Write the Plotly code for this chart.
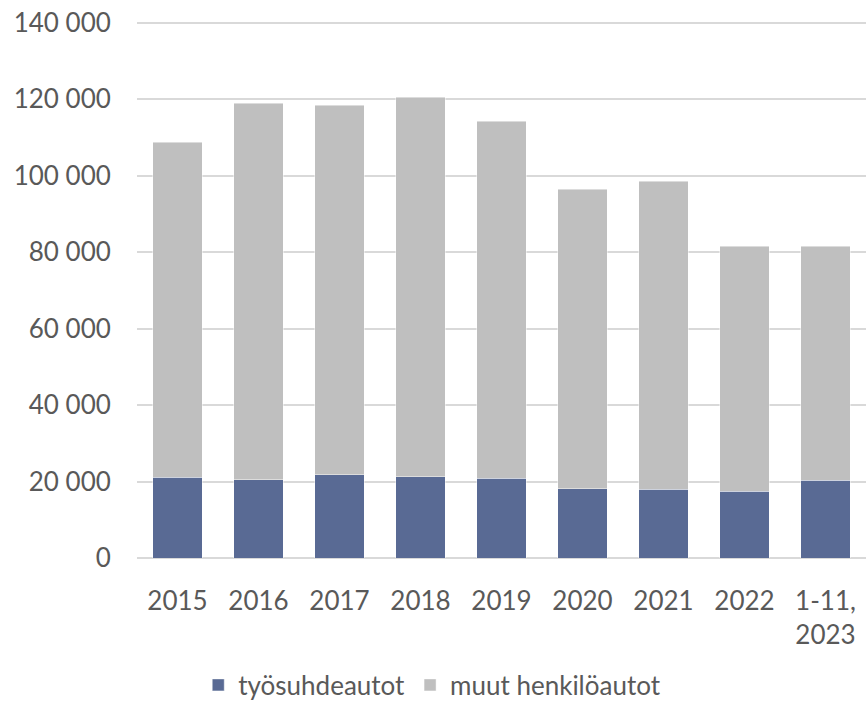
import plotly.graph_objects as go

categories = ["2015", "2016", "2017", "2018", "2019", "2020", "2021", "2022", "1-11,<br>2023"]
tyosuhdeautot = [21100, 20500, 21800, 21300, 20800, 18100, 18000, 17500, 20400]
muut_henkiloautot = [87700, 98500, 96700, 99200, 93400, 78300, 80500, 64100, 61200]
y_tick_values = [0, 20000, 40000, 60000, 80000, 100000, 120000, 140000]
y_tick_labels = ["0", "20 000", "40 000", "60 000", "80 000", "100 000", "120 000", "140 000"]

FONT = "Lato, 'Open Sans', sans-serif"
TXT = "#595959"

fig = go.Figure()
fig.add_trace(go.Bar(
    x=categories, y=tyosuhdeautot, name="työsuhdeautot",
    marker=dict(color="#596A94", line=dict(color="rgba(255,255,255,0.45)", width=1)),
))
fig.add_trace(go.Bar(
    x=categories, y=muut_henkiloautot, name="muut henkilöautot",
    marker=dict(color="#BFBFBF", line=dict(color="rgba(255,255,255,0.45)", width=1)),
))

fig.update_layout(
    barmode="stack",
    bargap=0.385,
    width=866, height=704,
    margin=dict(l=137, r=0, t=19, b=146),
    plot_bgcolor="white", paper_bgcolor="white",
    font=dict(family=FONT, size=26, color=TXT),
    showlegend=True,
    legend=dict(
        orientation="h", xanchor="center", x=0.405,
        yref="container", yanchor="middle", y=0.027,
        font=dict(family=FONT, size=26, color=TXT),
        traceorder="normal", itemclick=False,
    ),
    xaxis=dict(
        automargin=False,
        showgrid=False, showline=False, zeroline=False,
        ticks="outside", ticklen=20, tickcolor="rgba(0,0,0,0)",
        tickfont=dict(family=FONT, size=26, color=TXT),
    ),
    yaxis=dict(
        automargin=False,
        range=[0, 141000],
        tickvals=y_tick_values, ticktext=y_tick_labels,
        showgrid=True, gridcolor="#D9D9D9", gridwidth=1.8,
        zeroline=True, zerolinecolor="#D9D9D9", zerolinewidth=1.8,
        showline=False,
        ticks="outside", ticklen=20, tickcolor="rgba(0,0,0,0)",
        tickfont=dict(family=FONT, size=26, color=TXT),
    ),
)

fig.write_html(
    "out.html",
    config={"displayModeBar": False},
    post_script="document.body.style.margin='0';document.body.style.overflow='hidden';",
)
